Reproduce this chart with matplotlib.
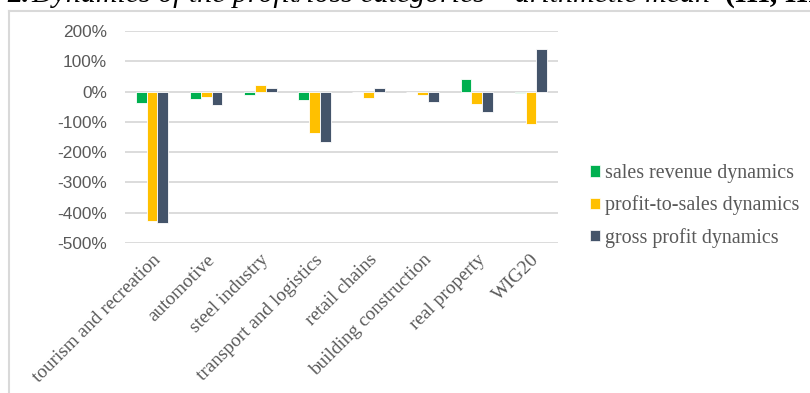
import matplotlib
matplotlib.use('Agg')
import matplotlib.pyplot as plt
from matplotlib.patches import Patch
from matplotlib.lines import Line2D
import numpy as np

# Sectors and the mean dynamics per profit/loss category (in %)
sectors = ['tourism and recreation', 'automotive', 'steel industry',
           'transport and logistics', 'retail chains', 'building construction',
           'real property', 'WIG20']
sales_revenue = [-38, -23, -10, -29, 0, 0, 42, -5]
profit_to_sales = [-426, -19, 22, -137, -22, -10, -42, -108]
gross_profit = [-433, -45, 13, -167, 13, -36, -68, 142]

series_names = ['sales revenue dynamics', 'profit-to-sales dynamics', 'gross profit dynamics']
colores = ['#00B050', '#FFC000', '#44546A']

W, H = 810, 393
fig = plt.figure(figsize=(W / 100, H / 100), dpi=100)

# marco gris del grafico
fig.add_artist(Line2D([9 / W, 9 / W], [0, 1 - 10.5 / H], color='#d9d9d9', lw=1.5))
fig.add_artist(Line2D([9 / W, 1], [1 - 10.5 / H, 1 - 10.5 / H], color='#d9d9d9', lw=1.5))

# titulo (cortado arriba)
base_y = 1 - 1.5 / H
fig.text(7 / W, base_y, '2.', fontfamily='Liberation Serif', fontsize=21.5,
         fontweight='bold', fontstyle='italic', va='baseline', ha='left')
fig.text(31 / W, base_y, 'Dynamics of the profit/loss categories \u2013 arithmetic mean',
         fontfamily='Liberation Serif', fontsize=21.5, fontstyle='italic',
         va='baseline', ha='left')
fig.text(725 / W, base_y, '(III, III', fontfamily='Liberation Serif', fontsize=21.5,
         fontweight='bold', va='baseline', ha='left')

ax = fig.add_axes([125 / W, 1 - 243 / H, 433 / W, (243 - 31) / H])

x = np.arange(len(sectors))
ancho = 0.2
datos = [sales_revenue, profit_to_sales, gross_profit]
for k, (vals, col, nom) in enumerate(zip(datos, colores, series_names)):
    ax.bar(x + (k - 1) * ancho, vals, ancho, color=col, edgecolor='white',
           linewidth=0.6, label=nom, zorder=3)

ax.set_xlim(-0.5, len(sectors) - 0.5)
ax.set_ylim(-500, 200)
ax.set_yticks(np.arange(-500, 201, 100))
ax.set_yticklabels([f'{v}%' for v in range(-500, 201, 100)],
                   fontfamily='Liberation Sans', fontsize=12.4, color='#595959')
ax.yaxis.grid(True, color='#d9d9d9', linewidth=1.3, zorder=0)
ax.tick_params(axis='y', length=0, pad=13)
ax.tick_params(axis='x', length=0, pad=6)
ax.set_xticks(x)
ax.set_xticklabels(sectors, rotation=45, ha='right', rotation_mode='anchor',
                   fontfamily='Liberation Serif', fontsize=13.9, color='#595959')
for s in ax.spines.values():
    s.set_visible(False)

handles = [Patch(facecolor=c, edgecolor='white', linewidth=0.5) for c in colores]
fig.legend(handles, series_names, loc='upper left', bbox_to_anchor=(590 / W, 1 - 164 / H),
           frameon=False, prop={'family': 'Liberation Serif', 'size': 14.4},
           labelcolor='#595959', handlelength=0.5, handleheight=0.5,
           handletextpad=0.25, labelspacing=0.62, borderaxespad=0, borderpad=0)

fig.savefig('out.png', dpi=100)
